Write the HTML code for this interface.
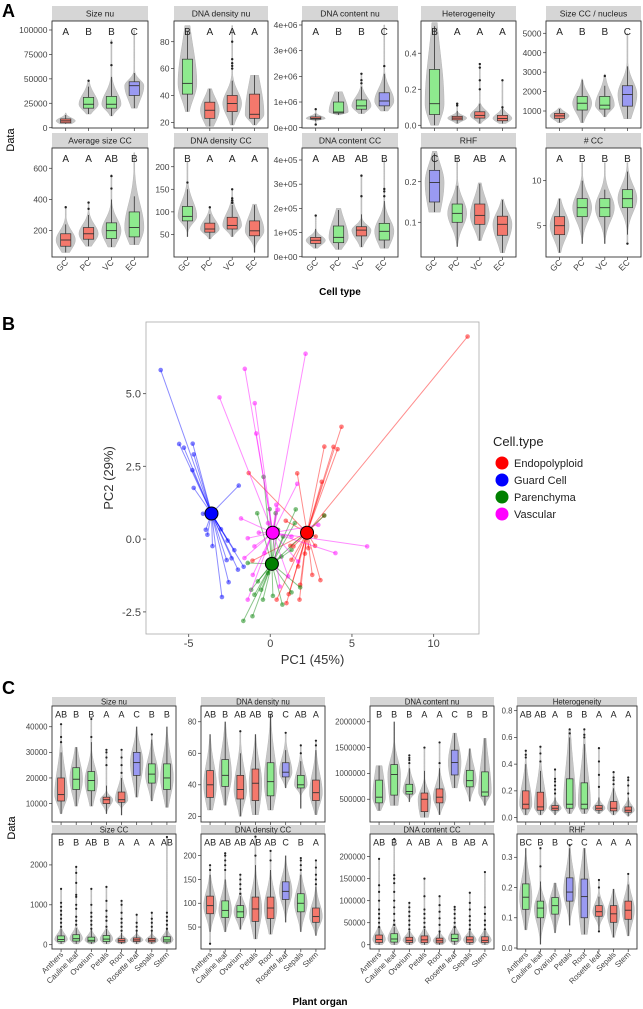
<!DOCTYPE html>
<html><head><meta charset="utf-8"><style>
html,body{margin:0;padding:0;background:#fff;}
svg{display:block;font-family:"Liberation Sans",Arial,sans-serif;}
</style></head><body>
<svg id="fig" width="643" height="1009" viewBox="0 0 643 1009" xmlns="http://www.w3.org/2000/svg">
<text x="2" y="17" font-size="18" font-weight="bold">A</text>
<text x="2" y="330" font-size="18" font-weight="bold">B</text>
<text x="2" y="694" font-size="18" font-weight="bold">C</text>
<text transform="translate(14,140) rotate(-90)" text-anchor="middle" font-size="11">Data</text>
<text x="340" y="295" text-anchor="middle" font-size="10" font-weight="bold">Cell type</text>
<text transform="translate(15,828) rotate(-90)" text-anchor="middle" font-size="11">Data</text>
<text x="320" y="1005" text-anchor="middle" font-size="10" font-weight="bold">Plant organ</text>
</svg>
<script>
// ---------- Panel A data ----------
const cellTypes = ["GC","PC","VC","EC"];
const a1Stats = [[5000,7000,9000,4000,13000],[20000,24000,31000,14000,42000],[20000,24000,32000,12000,52000],[33000,43000,47000,20000,56000]];
const a1Out = [[],[48000],[64000,87000],[]];
const a1Max = [15000,49000,90000,100000];
const a1Col = ["r","g","g","b"];
const a1Let = ["A","B","B","C"];
const a2Stats = [[41,49,67,28,88],[23,29,35,17,45],[28,34,40,18,51],[23,26,41,18,55]];
const a2Out = [[],[],[60,62,64,67,80],[]];
const a2Max = [92,45,92,55];
const a2Col = ["g","r","r","r"];
const a2Let = ["B","A","A","A"];
const a3Stats = [[330000,360000,420000,250000,550000],[570000,610000,1000000,500000,1390000],[720000,850000,1080000,550000,1600000],[850000,1040000,1360000,650000,2100000]];
const a3Out = [[720000,120000],[],[1730000,1850000,2100000],[2400000]];
const a3Max = [720000,1400000,2100000,4000000];
const a3Col = ["r","g","g","b"];
const a3Let = ["A","B","B","C"];
const a4Stats = [[0.06,0.12,0.31,0.0,0.55],[0.03,0.04,0.05,0.01,0.08],[0.04,0.055,0.075,0.01,0.12],[0.025,0.038,0.055,0.01,0.1]];
const a4Out = [[],[0.11,0.12],[0.2,0.25,0.32,0.34],[0.1,0.25]];
const a4Max = [0.57,0.12,0.34,0.25];
const a4Col = ["g","r","r","r"];
const a4Let = ["B","A","A","A"];
const a5Stats = [[620,750,880,400,1100],[1050,1400,1750,400,2600],[1100,1300,1750,700,2300],[1250,1850,2300,600,3300]];
const a5Out = [[],[],[2800],[]];
const a5Max = [1150,2650,2900,5000];
const a5Col = ["r","g","g","b"];
const a5Let = ["A","B","B","C"];
const a6Stats = [[100,140,180,60,240],[145,180,220,100,300],[150,200,250,95,400],[160,220,320,110,420]];
const a6Out = [[350],[340,380],[470,550],[]];
const a6Max = [350,380,560,700];
const a6Col = ["r","r","g","g"];
const a6Let = ["A","A","AB","B"];
const a7Stats = [[80,90,112,45,150],[55,62,75,40,95],[62,70,88,45,115],[47,58,80,10,115]];
const a7Out = [[165],[110],[120,125,130,150],[]];
const a7Max = [210,112,150,117];
const a7Col = ["g","r","r","r"];
const a7Let = ["B","A","A","A"];
const a8Stats = [[55000,68000,80000,35000,115000],[58000,80000,127000,30000,193000],[86000,110000,124000,40000,175000],[69000,105000,138000,35000,230000]];
const a8Out = [[170000],[],[250000,335000],[250000,270000,280000]];
const a8Max = [170000,200000,340000,400000];
const a8Col = ["r","g","r","g"];
const a8Let = ["A","AB","AB","B"];
const a9Stats = [[0.15,0.198,0.228,0.125,0.27],[0.1,0.122,0.145,0.04,0.19],[0.095,0.117,0.145,0.055,0.195],[0.068,0.095,0.115,0.025,0.155]];
const a9Out = [[],[],[],[]];
const a9Max = [0.275,0.26,0.197,0.157];
const a9Col = ["b","g","r","r"];
const a9Let = ["C","B","AB","A"];
const a10Stats = [[4,5,6,2,8],[6,7,8,3,10],[6,7,8,3,9],[7,8,9,4,11]];
const a10Out = [[],[],[],[3]];
const a10Max = [8,12,12,12];
const a10Col = ["r","g","g","g"];
const a10Let = ["A","B","B","B"];

// ---------- Panel C data ----------
const organs = ["Anthers","Cauline leaf","Ovarium","Petals","Root","Rosette leaf","Sepals","Stem"];
const c1Stats = [[11000,13500,20000,6000,30000],[15500,19500,24000,9000,32000],[15000,19000,22500,9000,34000],[10000,11500,12500,6000,17000],[10500,11500,14500,5500,20000],[21000,26000,30000,12500,40000],[18000,21500,25500,11000,35000],[15500,20000,25500,8500,40000]];
const c1Out = [[34000,36000,41000],[],[36000,43000],[25000,28000,30000,31000],[22000,25000,28000,31000],[],[37000],[]];
const c1Col = ["r","g","g","r","r","b","g","g"];
const c1Let = ["AB","B","B","A","A","C","B","B"];
const c2Stats = [[32,40,49,24,72],[39,46,56,27,80],[31,37,46,20,60],[30,41,50,21,72],[33,42,54,24,85],[45,48,54,38,62],[38,40,46,25,55],[30,35,43,21,62]];
const c2Out = [[],[],[74],[],[],[73],[60,65],[65,68]];
const c2Col = ["r","g","r","r","g","b","g","r"];
const c2Let = ["AB","B","AB","AB","B","C","AB","A"];
const c3Stats = [[430000,540000,870000,280000,1150000],[580000,980000,1170000,380000,2000000],[600000,650000,790000,450000,1100000],[260000,500000,620000,150000,1050000],[430000,540000,700000,200000,1100000],[970000,1210000,1450000,720000,1780000],[740000,860000,1060000,460000,1480000],[560000,640000,1030000,380000,1680000]];
const c3Out = [[],[],[1200000,1260000,1300000,1350000],[1500000],[1200000,1600000],[],[],[]];
const c3Col = ["g","g","g","r","r","b","g","g"];
const c3Let = ["B","B","B","A","A","C","B","B"];
const c4Stats = [[0.065,0.1,0.2,0.02,0.4],[0.055,0.08,0.19,0.02,0.35],[0.055,0.07,0.09,0.02,0.15],[0.07,0.1,0.29,0.03,0.6],[0.065,0.1,0.26,0.03,0.55],[0.055,0.07,0.09,0.03,0.15],[0.05,0.07,0.12,0.02,0.22],[0.04,0.055,0.08,0.01,0.15]];
const c4Out = [[0.45,0.47,0.5],[0.42,0.48,0.53],[0.18,0.21,0.24,0.27,0.29,0.36],[0.63,0.66],[0.6,0.62,0.66],[0.23,0.32,0.42,0.52],[0.25,0.28,0.3,0.34],[0.18,0.24,0.28,0.3]];
const c4Col = ["r","r","r","g","g","r","r","r"];
const c4Let = ["AB","AB","A","B","B","A","A","A"];
const c5Stats = [[80,130,220,20,400],[90,150,250,20,420],[70,110,190,20,380],[80,140,230,20,400],[60,100,150,20,300],[80,120,170,20,320],[70,110,160,20,320],[70,120,200,20,380]];
const c5Out = [[450,550,650,750,850,950,1050,1400],[500,600,700,900,1000,1200,1250,1550,1800,1950],[400,500,600,700,800,1000,1400],[450,600,700,850,1100,1450],[350,450,550,650,800,1000,1100],[350,450,550,750],[350,450,550,650,800],[400,500,600,700,800,2700]];
const c5Col = ["g","g","g","g","r","r","r","g"];
const c5Let = ["B","B","AB","B","A","A","A","AB"];
const c6Stats = [[78,95,115,40,160],[70,85,105,40,150],[70,82,95,45,115],[62,88,113,25,180],[68,90,113,35,170],[108,125,145,60,200],[82,100,120,40,160],[60,72,90,32,135]];
const c6Out = [[15,170,180],[170,180,190,200,205],[120,130,140,150,160],[200,240],[190,210],[],[170,180,190,195],[140,150,160,175,190]];
const c6Col = ["r","g","g","r","r","b","g","r"];
const c6Let = ["AB","AB","AB","AB","AB","C","B","A"];
const c7Stats = [[5000,12000,22000,0,38000],[6000,13000,25000,0,40000],[5000,10000,17000,0,32000],[5000,11000,20000,0,36000],[4000,9000,15000,0,28000],[8000,14000,24000,0,38000],[5000,11000,18000,0,32000],[5000,10000,18000,0,32000]];
const c7Out = [[40000,50000,60000,70000,80000,100000,120000,135000,195000],[45000,55000,70000,85000,100000,120000,140000,150000,158000,240000],[35000,45000,55000,65000,75000,85000,95000],[40000,50000,60000,70000,80000,110000,150000],[30000,45000,60000,75000,90000,110000],[40000,50000,60000,70000,80000,86000],[35000,45000,55000,65000,80000,95000,118000],[35000,45000,55000,70000,85000,165000]];
const c7Col = ["r","g","r","r","r","g","r","r"];
const c7Let = ["AB","B","A","AB","A","B","AB","A"];
const c8Stats = [[0.128,0.168,0.212,0.06,0.33],[0.1,0.132,0.155,0.012,0.22],[0.112,0.14,0.167,0.05,0.215],[0.155,0.185,0.232,0.075,0.33],[0.1,0.17,0.228,0.045,0.33],[0.105,0.12,0.14,0.06,0.17],[0.085,0.113,0.14,0.035,0.195],[0.095,0.125,0.155,0.04,0.21]];
const c8Out = [[],[0.27,0.33],[],[0.34],[],[0.055,0.2,0.225],[],[0.245]];
const c8Col = ["g","g","g","b","b","r","r","r"];
const c8Let = ["BC","B","B","C","C","A","A","A"];

// ---------- Panel B data ----------
const pcaGroups = ["Endopolyploid","Guard Cell","Parenchyma","Vascular"];
const centroids = [[2.25,0.22],[-3.6,0.88],[0.1,-0.85],[0.15,0.22]];
const endoPts = [[12.08,6.96],[4.36,3.86],[3.31,3.18],[3.87,3.17],[4.12,3.09],[3.15,1.97],[1.65,2.26],[-1.32,2.27],[3.29,0.81],[2.78,0.09],[2.74,-0.23],[2.33,-0.31],[1.42,-0.25],[1.23,-0.23],[0.95,0.63],[2.57,-1.23],[3.07,-1.41],[1.83,-1.57],[1.79,-2.08],[0.99,-2.2],[1.13,-1.89],[0.39,-2.08],[-1.09,-0.74],[2.12,-0.5],[1.3,-0.71],[1.71,-0.94]];
const guardPts = [[-6.71,5.81],[-5.58,3.27],[-5.29,3.14],[-4.75,3.28],[-4.69,2.91],[-4.77,2.37],[-4.69,1.76],[-1.93,1.84],[-4.12,0.87],[-3.95,0.32],[-3.85,0.15],[-3.54,-0.24],[-3.02,0.34],[-2.61,-0.05],[-2.2,-0.38],[-2.37,-0.66],[-2.67,-0.72],[-1.98,-1.05],[-1.63,-0.95],[-2.55,-1.48],[-2.96,-1.99]];
const parenPts = [[-0.41,2.14],[-0.8,0.89],[-0.04,1.03],[0.33,0.89],[1.56,1.02],[3.31,0.81],[-1.65,-2.81],[-1.09,-2.65],[-0.97,-1.91],[-0.45,-2.08],[0.16,-1.95],[0.74,-2.25],[1.3,-1.83],[1.83,-1.66],[-1.38,-0.82],[-0.76,-1.45],[-0.56,-1.74],[-0.14,-1.17],[0.68,-0.6],[1.3,-0.37],[1.5,0.55],[0.47,0.32],[0.78,0.09],[-1.17,-1.74]];
const vascPts = [[2.16,6.37],[-1.56,5.85],[-3.11,4.87],[-0.95,4.67],[-0.86,3.63],[1.65,1.9],[0.37,1.18],[-1.79,0.71],[5.93,-0.25],[3.99,-0.48],[2.94,0.49],[-1.58,-0.65],[-1.38,-2.08],[-0.7,0.22],[-1.38,0.03],[-0.97,-0.25],[-0.35,-0.48],[0.58,-1.63],[1.09,-1.28],[0.47,1.01],[-0.14,0.55],[1.3,0.09],[1.71,-0.77],[-1.07,-1.23]];
const pcaXTicks = [-5,0,5,10];
const pcaYTicks = [-2.5,0,2.5,5];
const pcaYTickLabels = ["-2.5","0.0","2.5","5.0"];

// ---------- drawing ----------
const NS="http://www.w3.org/2000/svg";
const svg=document.getElementById('fig');
const FILL={r:"#f4786c",g:"#8eea8e",b:"#9a9af2"};
function mk(tag,attrs,parent){const e=document.createElementNS(NS,tag);for(const k in attrs)e.setAttribute(k,attrs[k]);(parent||svg).appendChild(e);return e;}
function tx(parent,x,y,s,size,anchor,extra){const e=mk('text',Object.assign({x:x,y:y,'font-size':size,'text-anchor':anchor||'middle',fill:'#222'},extra||{}),parent);e.textContent=s;return e;}

function boxPanel(p){
  const g=mk('g',{});
  
  
  const n=p.cats.length, W=p.x1-p.x0;
  const ux=W/(n+0.2);
  const xs=i=>p.x0+ux*(i+0.6);
  const ys=v=>p.y1-(v-p.lo)/(p.hi-p.lo)*(p.y1-p.y0);
  const strip=mk('rect',{x:p.x0,y:p.y0-p.sh,width:W,height:p.sh,fill:'#d6d6d6'},g);
  
  
  tx(g,p.x0+W/2,p.y0-p.sh/2+p.fs*0.36,p.title,p.fs);
  mk('rect',{x:p.x0,y:p.y0,width:W,height:p.y1-p.y0,fill:'#fff'},g);
  p.ticks.forEach((t,i)=>{const y=ys(t);
    mk('line',{x1:p.x0-3,x2:p.x0,y1:y,y2:y,stroke:'#333','stroke-width':0.7},g);
    const lab=tx(g,p.x0-4.5,y+p.fs*0.36,p.tickLabels?p.tickLabels[i]:String(t),p.fs,'end',{fill:'#444'});
    
    
  });
  const bw=ux*p.bwf, vw=ux*0.42;
  p.stats.forEach((s,i)=>{
    const [q1,md,q3,wl,wh]=s; const cx=xs(i);
    const outs=p.out[i]||[];
    let vmin=Math.min(wl,...outs), vmax=Math.max(wh,...outs);
    if(p.vmax)vmax=Math.max(vmax,p.vmax[i]);
    const sl=Math.max((md-q1)/0.674,1e-9), sh=Math.max((q3-md)/0.674,1e-9);
    const N=50,L=[],R=[];
    for(let k=0;k<=N;k++){const v=vmin+(vmax-vmin)*k/N;const s2=v<md?sl:sh;
      let w=vw*Math.exp(-0.5*Math.pow((v-md)/s2,2));w=Math.max(w,0.5);
      L.push((cx-w).toFixed(2)+','+ys(v).toFixed(2));R.unshift((cx+w).toFixed(2)+','+ys(v).toFixed(2));}
    const vio=mk('polygon',{points:L.concat(R).join(' '),fill:'#c6c6c6',stroke:'#b5b5b5','stroke-width':0.5},g);
    
    
    mk('line',{x1:cx,x2:cx,y1:ys(wl),y2:ys(wh),stroke:'#333','stroke-width':0.8},g);
    const bx=mk('rect',{x:cx-bw/2,y:ys(q3),width:bw,height:Math.max(ys(q1)-ys(q3),0.5),fill:FILL[p.col[i]],stroke:'#333','stroke-width':0.7},g);
    
    
    mk('line',{x1:cx-bw/2,x2:cx+bw/2,y1:ys(md),y2:ys(md),stroke:'#333','stroke-width':0.9},g);
    outs.forEach(o=>{const d=mk('circle',{cx:cx,cy:ys(o),r:p.or,fill:'#222'},g);
      
      });
    const lt=tx(g,cx,p.y0+p.ly,p.letters[i],p.lfs);
    
    
    mk('line',{x1:cx,x2:cx,y1:p.y1,y2:p.y1+3,stroke:'#333','stroke-width':0.7},g);
    if(p.xlab){const t=mk('text',{x:0,y:0,'font-size':p.fs,'text-anchor':'end',fill:'#444',transform:`translate(${cx+p.fs*0.35},${p.y1+6}) rotate(-45)`},g);t.textContent=p.cats[i];
      
      }
  });
  mk('rect',{x:p.x0,y:p.y0,width:W,height:p.y1-p.y0,fill:'none',stroke:'#333','stroke-width':0.9},g);
}

const aX=[[52,148],[174,268],[302,398],[421,516],[546,641]];
const aR1=[21,128], aR2=[148,257];
const aDefs=[
 ["Size nu",a1Stats,a1Out,a1Max,a1Col,a1Let,-300,109200,[0,25000,50000,75000,100000],null],
 ["DNA density nu",a2Stats,a2Out,a2Max,a2Col,a2Let,15.8,95.4,[20,40,60,80],null],
 ["DNA content nu",a3Stats,a3Out,a3Max,a3Col,a3Let,-12000,4156000,[0,1e6,2e6,3e6,4e6],["0e+00","1e+06","2e+06","3e+06","4e+06"]],
 ["Heterogeneity",a4Stats,a4Out,a4Max,a4Col,a4Let,-0.015,0.579,[0,0.2,0.4],["0.0","0.2","0.4"]],
 ["Size CC / nucleus",a5Stats,a5Out,a5Max,a5Col,a5Let,125,5633,[1000,2000,3000,4000,5000],null],
 ["Average size CC",a6Stats,a6Out,a6Max,a6Col,a6Let,31,730,[200,400,600],null],
 ["DNA density CC",a7Stats,a7Out,a7Max,a7Col,a7Let,0,241.5,[50,100,150,200],null],
 ["DNA content CC",a8Stats,a8Out,a8Max,a8Col,a8Let,-1200,449600,[0,1e5,2e5,3e5,4e5],["0e+00","1e+05","2e+05","3e+05","4e+05"]],
 ["RHF",a9Stats,a9Out,a9Max,a9Col,a9Let,0.0145,0.283,[0.1,0.2],["0.1","0.2"]],
 ["# CC",a10Stats,a10Out,a10Max,a10Col,a10Let,1.52,13.63,[5,10],null]];
aDefs.forEach((d,k)=>{const r=k<5?aR1:aR2;const xx=aX[k%5];
  boxPanel({name:'a-panel-'+(k+1),title:d[0],stats:d[1],out:d[2],vmax:d[3],col:d[4],letters:d[5],lo:d[6],hi:d[7],ticks:d[8],tickLabels:d[9],
    cats:cellTypes,x0:xx[0],x1:xx[1],y0:r[0],y1:r[1],sh:15,fs:8.5,lfs:10,ly:14,bwf:0.45,or:1.2,xlab:k>=5});});

const cX=[[52,176],[201,325],[370,494],[517,637]];
const cR1=[706,822], cR2=[834,949];
const cDefs=[
 ["Size nu",c1Stats,c1Out,c1Col,c1Let,2800,48100,[10000,20000,30000,40000],null],
 ["DNA density nu",c2Stats,c2Out,c2Col,c2Let,16.4,90,[20,40,60,80],null],
 ["DNA content nu",c3Stats,c3Out,c3Col,c3Let,59500,2305000,[500000,1000000,1500000,2000000],null],
 ["Heterogeneity",c4Stats,c4Out,c4Col,c4Let,-0.033,0.835,[0,0.2,0.4,0.6,0.8],["0.0","0.2","0.4","0.6","0.8"]],
 ["Size CC",c5Stats,c5Out,c5Col,c5Let,-108,2775,[0,1000,2000],null],
 ["DNA density CC",c6Stats,c6Out,c6Col,c6Let,3.9,245.5,[50,100,150,200],null],
 ["DNA content CC",c7Stats,c7Out,c7Col,c7Let,-9700,251400,[0,50000,100000,150000,200000],null],
 ["RHF",c8Stats,c8Out,c8Col,c8Let,-0.0033,0.377,[0,0.1,0.2,0.3],["0.0","0.1","0.2","0.3"]]];
cDefs.forEach((d,k)=>{const r=k<4?cR1:cR2;const xx=cX[k%4];
  boxPanel({name:'c-panel-'+(k+1),title:d[0],stats:d[1],out:d[2],vmax:null,col:d[3],letters:d[4],lo:d[5],hi:d[6],ticks:d[7],tickLabels:d[8],
    cats:organs,x0:xx[0],x1:xx[1],y0:r[0],y1:r[1],sh:9,fs:7.8,lfs:9,ly:11.5,bwf:0.45,or:1.1,xlab:k>=4});});

// PCA panel
(function(){
  const x0=146,x1=479,y0=322,y1=634,xlo=-7.61,xhi=12.78,ylo=-3.26,yhi=7.46;
  const X=v=>x0+(v-xlo)/(xhi-xlo)*(x1-x0), Y=v=>y1-(v-ylo)/(yhi-ylo)*(y1-y0);
  const g=mk('g',{});
  
  
  mk('rect',{x:x0,y:y0,width:x1-x0,height:y1-y0,fill:'#fff',stroke:'#aaa','stroke-width':0.8},g);
  pcaXTicks.forEach(t=>{mk('line',{x1:X(t),x2:X(t),y1:y1,y2:y1+3,stroke:'#666'},g);
    const l=tx(g,X(t),y1+13,String(t),11,'middle',{fill:'#444'});
    
    });
  pcaYTicks.forEach((t,i)=>{mk('line',{x1:x0-3,x2:x0,y1:Y(t),y2:Y(t),stroke:'#666'},g);
    const l=tx(g,x0-5,Y(t)+4,pcaYTickLabels[i],11,'end',{fill:'#444'});
    
    });
  const xt=tx(g,(x0+x1)/2,664,"PC1 (45%)",13,'middle',{fill:'#333'});
  
  
  const yt=tx(g,0,0,"PC2 (29%)",13,'middle',{fill:'#333',transform:'translate(113,478) rotate(-90)'});
  
  
  const cols=["#ff0000","#0000ff","#008000","#ff00ff"];
  const pts=[endoPts,guardPts,parenPts,vascPts];
  pts.forEach((arr,gi)=>{const c=centroids[gi];
    arr.forEach(p=>{mk('line',{x1:X(p[0]),y1:Y(p[1]),x2:X(c[0]),y2:Y(c[1]),stroke:cols[gi],'stroke-opacity':0.45,'stroke-width':1},g);});
    arr.forEach(p=>{const d=mk('circle',{cx:X(p[0]),cy:Y(p[1]),r:2.3,fill:cols[gi],'fill-opacity':0.5},g);
      
      });
  });
  [3,2,1,0].forEach(gi=>{const c=centroids[gi];
    const d=mk('circle',{cx:X(c[0]),cy:Y(c[1]),r:6.5,fill:cols[gi],stroke:'#000','stroke-width':1},g);
    
    });
  const lg=mk('g',{});
  
  
  tx(lg,493,446,"Cell.type",13,'start',{fill:'#222'});
  pcaGroups.forEach((n,i)=>{const y=463+i*17;
    const e=mk('g',{},lg);
    
    
    mk('circle',{cx:502,cy:y,r:6.5,fill:cols[i]},e);
    tx(e,514,y+4,n,11,'start',{fill:'#222'});});
})();
</script>
</body></html>
